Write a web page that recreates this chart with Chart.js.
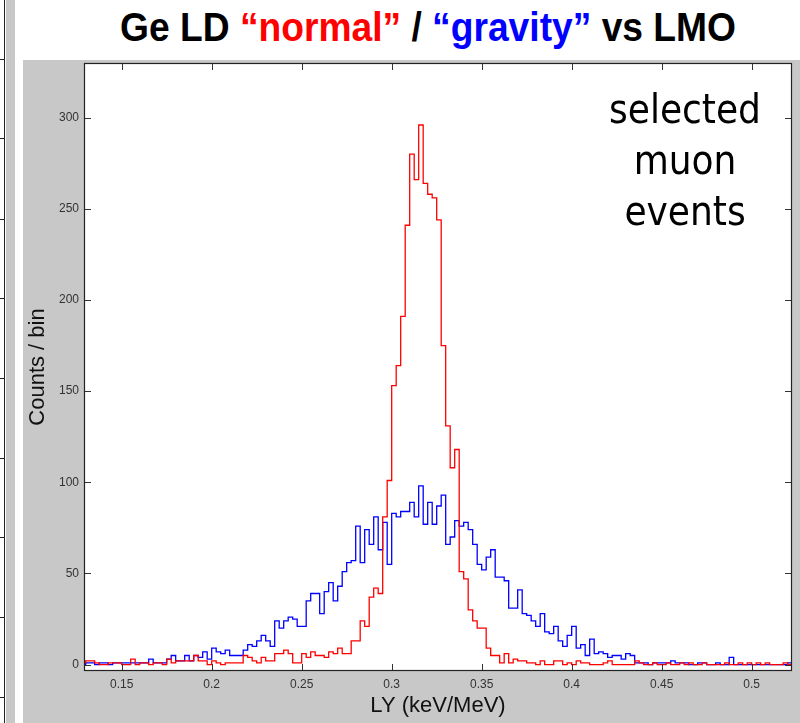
<!DOCTYPE html>
<html>
<head>
<meta charset="utf-8">
<script src="https://cdn.jsdelivr.net/npm/chart.js@4/dist/chart.umd.min.js"></script>
<style>
  html, body { margin: 0; padding: 0; background: #fff; }
  #wrap { position: relative; width: 800px; height: 723px; overflow: hidden; background: #fff; }
  #panel { position: absolute; left: 23px; top: 60px; width: 777px; height: 663px; background: #c8c8c8; }
  #strip { position: absolute; left: 6px; top: 0; width: 9px; height: 723px; background: #c8c8c8; }
  #vline { position: absolute; left: 4px; top: 0; width: 1px; height: 723px; background: #222; }
  .dtick { position: absolute; left: 0; width: 5px; height: 1px; background: #222; }
  #title { position: absolute; left: 0; top: 5px; width: 856px; text-align: center; white-space: nowrap;
           font: bold 40px "Liberation Sans", Arial, sans-serif; line-height: 44px; color: #000;
           transform: scaleX(0.93); transform-origin: 428px 0; }
  #title .red { color: #ff0000; }
  #title .blue { color: #0000ff; }
  #note { position: absolute; left: 585px; top: 84px; width: 200px; text-align: center;
          font-family: "DejaVu Sans Condensed", "DejaVu Sans", sans-serif; font-stretch: condensed;
          font-size: 40px; line-height: 51px; color: #000; }
  #chart { position: absolute; left: 0; top: 0; }
</style>
</head>
<body>
<div id="wrap">
  <div id="strip"></div>
  <div id="vline"></div>
  <div class="dtick" style="top:59px"></div>
  <div class="dtick" style="top:138px"></div>
  <div class="dtick" style="top:219px"></div>
  <div class="dtick" style="top:298px"></div>
  <div class="dtick" style="top:378px"></div>
  <div class="dtick" style="top:458px"></div>
  <div class="dtick" style="top:537px"></div>
  <div class="dtick" style="top:617px"></div>
  <div class="dtick" style="top:697px"></div>
  <div id="panel"></div>
  <div id="title">Ge LD <span class="red">“normal”</span> / <span class="blue">“gravity”</span> vs LMO</div>
  <canvas id="chart" width="800" height="723"></canvas>
  <div id="note">selected<br>muon<br>events</div>
</div>
<script>
// ---- data ----
const BIN_START = 0.1275;   // left edge of first bin (keV/MeV)
const BIN_WIDTH = 0.0025;   // bin width (keV/MeV)

// "normal" Ge LD (red), counts per bin
const normalCounts = [
  1,2,2,1,0,0,1,1,1,0,
  0,3,0,1,1,0,1,1,0,3,
  1,2,2,2,2,5,2,2,0,2,
  1,0,1,1,1,1,5,4,2,1,
  4,2,2,6,6,8,6,1,1,6,
  4,7,5,5,4,7,6,9,6,6,
  13,13,24,21,37,42,39,81,101,153,
  164,191,241,280,266,296,264,258,256,244,
  175,131,108,118,51,47,30,24,20,20,
  9,5,5,1,6,1,3,2,2,1,
  1,0,2,0,0,2,2,0,1,0,
  2,1,1,0,0,0,1,2,0,0,
  0,0,0,2,1,0,0,1,0,0,
  1,0,0,1,0,1,0,0,1,0,
  0,0,0,1,0,0,1,0,1,0,
  1,0,1,0,0,0,1,0
];

// "gravity" Ge LD (blue), counts per bin
const gravityCounts = [
  0,1,1,0,1,1,0,1,1,1,
  1,1,1,1,1,3,1,1,1,3,
  5,2,2,5,2,5,4,7,3,9,
  7,6,8,5,5,5,8,11,10,13,
  16,13,10,24,20,24,26,25,21,21,
  35,39,39,28,40,45,35,43,51,56,
  57,76,56,74,66,81,63,78,55,83,
  81,84,84,89,81,98,77,89,77,87,
  93,66,70,79,76,78,74,66,55,52,
  59,63,48,48,46,31,31,41,28,27,
  24,21,28,18,17,21,13,10,16,21,
  9,11,5,14,6,7,6,4,5,5,
  3,6,5,1,1,1,0,1,1,1,
  1,2,1,1,1,0,0,1,1,0,
  0,1,0,0,4,0,0,0,0,0,
  0,0,0,0,0,0,0,1
];

const X_TICKS = [0.15, 0.2, 0.25, 0.3, 0.35, 0.4, 0.45, 0.5];
const Y_TICKS = [0, 50, 100, 150, 200, 250, 300];
const X_LABEL = 'LY (keV/MeV)';
const Y_LABEL = 'Counts / bin';

// ---- helpers ----
function histPoints(counts) {
  const pts = counts.map((c, i) => ({ x: BIN_START + i * BIN_WIDTH, y: c }));
  pts.push({ x: BIN_START + counts.length * BIN_WIDTH, y: counts[counts.length - 1] });
  return pts;
}

const TICK_LEN = 7;
const frameTicks = {
  id: 'frameTicks',
  beforeDatasetsDraw(chart) {
    const { ctx, chartArea: a } = chart;
    ctx.save();
    ctx.fillStyle = '#ffffff';
    ctx.fillRect(a.left, a.top, a.right - a.left, a.bottom - a.top);
    ctx.restore();
  },
  afterDatasetsDraw(chart) {
    const { ctx, chartArea: a, scales: { x, y } } = chart;
    ctx.save();
    ctx.strokeStyle = '#333';
    ctx.lineWidth = 1;
    ctx.beginPath();
    X_TICKS.forEach(v => {
      const px = Math.round(x.getPixelForValue(v)) + 0.5;
      ctx.moveTo(px, a.bottom); ctx.lineTo(px, a.bottom - TICK_LEN);
      ctx.moveTo(px, a.top); ctx.lineTo(px, a.top + TICK_LEN);
    });
    Y_TICKS.forEach(v => {
      const py = Math.round(y.getPixelForValue(v)) + 0.5;
      ctx.moveTo(a.left, py); ctx.lineTo(a.left + TICK_LEN, py);
      ctx.moveTo(a.right, py); ctx.lineTo(a.right - TICK_LEN, py);
    });
    ctx.stroke();
    ctx.strokeStyle = '#222';
    ctx.lineWidth = 1.2;
    ctx.strokeRect(a.left + 0.5, a.top + 0.5, a.right - a.left - 1, a.bottom - a.top - 1);
    ctx.restore();
  }
};

const tickFont = { family: '"Liberation Sans", Arial, sans-serif', size: 12 };
const titleFont = { family: '"Liberation Sans", Arial, sans-serif', size: 22, lineHeight: 1.2 };

new Chart(document.getElementById('chart'), {
  type: 'line',
  data: {
    datasets: [
      { label: 'normal', data: histPoints(normalCounts), borderColor: '#ff0000', borderWidth: 1.3,
        stepped: 'before', pointRadius: 0, fill: false, tension: 0 },
      { label: 'gravity', data: histPoints(gravityCounts), borderColor: '#0000ff', borderWidth: 1.3,
        stepped: 'before', pointRadius: 0, fill: false, tension: 0 }
    ]
  },
  options: {
    responsive: false,
    animation: false,
    devicePixelRatio: 1,
    layout: { padding: { left: 0, right: 8, top: 63, bottom: 0 } },
    plugins: { legend: { display: false }, tooltip: { enabled: false }, title: { display: false } },
    scales: {
      x: {
        type: 'linear', min: 0.12906, max: 0.5224,
        afterBuildTicks: s => { s.ticks = X_TICKS.map(v => ({ value: v })); },
        afterFit: s => { s.height = 52; },
        grid: { display: false, drawTicks: false },
        border: { display: false },
        ticks: { font: tickFont, color: '#333', padding: 6, maxRotation: 0, autoSkip: false,
                 callback: v => String(v) },
        title: { display: true, text: X_LABEL, font: titleFont, color: '#111', padding: { top: 0, bottom: 4 } }
      },
      y: {
        type: 'linear', min: -3.5, max: 330,
        afterBuildTicks: s => { s.ticks = Y_TICKS.map(v => ({ value: v })); },
        afterFit: s => { s.width = 84; },
        grid: { display: false, drawTicks: false },
        border: { display: false },
        ticks: { font: tickFont, color: '#333', padding: 5, autoSkip: false, callback: v => String(v) },
        title: { display: true, text: Y_LABEL, font: titleFont, color: '#111', padding: { top: 25, bottom: 0 } }
      }
    }
  },
  plugins: [frameTicks]
});
</script>
</body>
</html>
